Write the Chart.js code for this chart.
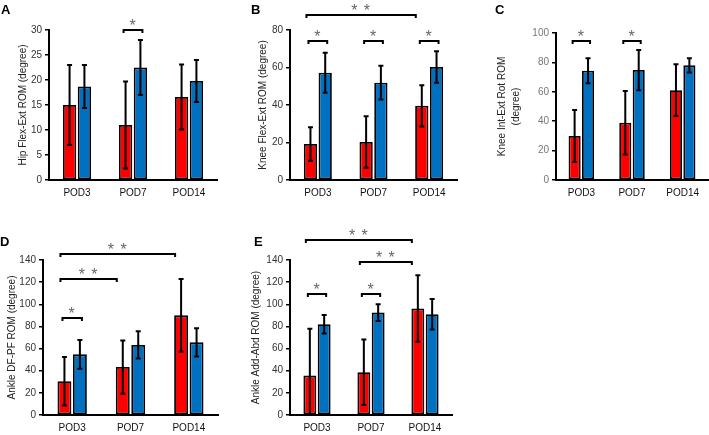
<!DOCTYPE html>
<html>
<head>
<meta charset="utf-8">
<script src="https://cdn.jsdelivr.net/npm/chart.js@4.4.1/dist/chart.umd.min.js"></script>
<style>
  body { margin: 0; background: #fff; width: 709px; height: 435px; position: relative; overflow: hidden;
         font-family: "Liberation Sans", Arial, sans-serif; }
  canvas { position: absolute; }
  .tag { position: absolute; font-weight: bold; font-size: 13px; color: #000; line-height: 13px; }
</style>
</head>
<body>
<canvas id="chartA" width="230" height="212" style="left:0;top:0"></canvas>
<canvas id="chartB" width="230" height="212" style="left:230px;top:0"></canvas>
<canvas id="chartC" width="249" height="212" style="left:460px;top:0"></canvas>
<canvas id="chartD" width="240" height="220" style="left:0;top:215px"></canvas>
<canvas id="chartE" width="215" height="220" style="left:245px;top:215px"></canvas>
<div class="tag" style="left:1px;top:3px">A</div>
<div class="tag" style="left:251px;top:3px">B</div>
<div class="tag" style="left:495px;top:3px">C</div>
<div class="tag" style="left:0;top:235px">D</div>
<div class="tag" style="left:254px;top:235px">E</div>
<script>
'use strict';
var categories = ['POD3', 'POD7', 'POD14'];

// A - hip flexion/extension
var hipRed = [15, 11, 16.6];
var hipRedSd = [8, 8.7, 6.5];
var hipBlue = [18.7, 22.5, 19.8];
var hipBlueSd = [4.3, 5.5, 4.2];
var hipTicks = [0, 5, 10, 15, 20, 25, 30];
var hipSig = [[1, 0, 1, 1, 30, '*']];

// B - knee flexion/extension
var kneeRed = [19.2, 20.3, 39.6];
var kneeRedSd = [8.9, 13.7, 11];
var kneeBlue = [57.2, 51.9, 60.3];
var kneeBlueSd = [10.7, 9, 8.4];
var kneeTicks = [0, 20, 40, 60, 80];
var kneeSig = [[0, 0, 0, 1, 74, '*'], [1, 0, 1, 1, 74, '*'], [2, 0, 2, 1, 74, '*'], [0, 0, 2, 0, 88, '* *']];

// C - knee internal/external rotation
var rotRed = [30, 39, 61.1];
var rotRedSd = [17.7, 21.6, 17.6];
var rotBlue = [74.3, 74.8, 78];
var rotBlueSd = [8.5, 13.7, 4.9];
var rotTicks = [0, 20, 40, 60, 80, 100];
var rotSig = [[0, 0, 0, 1, 94.5, '*'], [1, 0, 1, 1, 94.5, '*']];

// D - ankle DF/PF
var dfRed = [30.5, 43.3, 90];
var dfRedSd = [22, 24, 32.8];
var dfBlue = [54.8, 63.3, 65.6];
var dfBlueSd = [13, 12.3, 12.8];
var dfTicks = [0, 20, 40, 60, 80, 100, 120, 140];
var dfSig = [[0, 0, 0, 1, 88, '*'], [0, 0, 1, 0, 123, '* *'], [0, 0, 2, 0, 145.4, '* *']];

// E - ankle add/abd
var abdRed = [35.7, 38.7, 96.2];
var abdRedSd = [42.3, 29.6, 30];
var abdBlue = [82, 92.5, 91];
var abdBlueSd = [8.3, 7.5, 13.8];
var abdTicks = [0, 20, 40, 60, 80, 100, 120, 140];
var abdSig = [[0, 0, 0, 1, 109, '*'], [1, 0, 1, 1, 109, '*'], [1, 0, 2, 0, 138, '* *'], [0, 0, 2, 0, 158, '* *']];

Chart.defaults.font.family = '"Liberation Sans", Arial, sans-serif';

function buildPanel(canvasId, cfg) {
    // error bars + significance brackets, drawn through the chart's own scales
    var overlay = {
        id: 'overlay',
        afterDatasetsDraw: function (chart) {
            var ctx = chart.ctx;
            var y = chart.scales.y;
            ctx.save();
            ctx.strokeStyle = '#000';
            ctx.lineWidth = 2;
            chart.data.datasets.forEach(function (ds, i) {
                chart.getDatasetMeta(i).data.forEach(function (bar, j) {
                    var top = y.getPixelForValue(ds.data[j] + ds.sd[j]);
                    var bottom = y.getPixelForValue(Math.max(0, ds.data[j] - ds.sd[j]));
                    ctx.beginPath();
                    ctx.moveTo(bar.x, top); ctx.lineTo(bar.x, bottom);
                    ctx.moveTo(bar.x - 2.5, top); ctx.lineTo(bar.x + 2.5, top);
                    ctx.moveTo(bar.x - 2.5, bottom); ctx.lineTo(bar.x + 2.5, bottom);
                    ctx.stroke();
                });
            });
            cfg.sig.forEach(function (s) {
                var a = chart.getDatasetMeta(s[1]).data[s[0]];
                var b = chart.getDatasetMeta(s[3]).data[s[2]];
                var x1, x2;
                if (s[0] === s[2]) { x1 = a.x - 2; x2 = b.x + 2; }
                else { x1 = a.x - 4; x2 = b.x - 6; }
                var py = Math.round(y.getPixelForValue(s[4]));
                ctx.beginPath();
                ctx.moveTo(x1, py + 3); ctx.lineTo(x1, py); ctx.lineTo(x2, py); ctx.lineTo(x2, py + 3);
                ctx.stroke();
                ctx.fillStyle = '#666';
                ctx.font = '16px "Liberation Sans", Arial, sans-serif';
                ctx.letterSpacing = '1px';
                ctx.textAlign = 'center';
                ctx.textBaseline = 'alphabetic';
                ctx.fillText(s[5], (x1 + x2) / 2, py + 1);
            });
            ctx.restore();
        }
    };

    return new Chart(document.getElementById(canvasId), {
        type: 'bar',
        data: {
            labels: categories,
            datasets: [{
                data: cfg.red,
                sd: cfg.redSd,
                backgroundColor: '#FF0000',
                borderColor: '#000',
                borderWidth: 1.8,
                borderSkipped: false
            }, {
                data: cfg.blue,
                sd: cfg.blueSd,
                backgroundColor: '#0070C0',
                borderColor: '#000',
                borderWidth: 1.8,
                borderSkipped: false
            }]
        },
        options: {
            responsive: false,
            animation: false,
            layout: { padding: { top: cfg.padTop, right: cfg.padRight, left: 0, bottom: 0 } },
            datasets: { bar: { categoryPercentage: 0.53, barPercentage: 0.9 } },
            plugins: { legend: { display: false }, tooltip: { enabled: false } },
            scales: {
                x: {
                    grid: { display: false, drawTicks: false },
                    border: { color: '#000', width: 2 },
                    ticks: { color: '#111', font: { size: 10 }, padding: 7 },
                    afterFit: function (s) { s.height = cfg.xHeight; }
                },
                y: {
                    min: 0,
                    max: cfg.ticks[cfg.ticks.length - 1],
                    afterBuildTicks: function (s) {
                        s.ticks = cfg.ticks.map(function (v) { return { value: v }; });
                    },
                    grid: { drawOnChartArea: false, drawTicks: true, tickLength: 4, color: '#000', lineWidth: 1.5 },
                    border: { color: '#000', width: 2 },
                    ticks: { color: cfg.tickColor, font: { size: 10 }, padding: 3 },
                    title: {
                        display: true,
                        text: cfg.title,
                        color: '#222',
                        font: { size: 10, lineHeight: 1.4 },
                        padding: { top: cfg.titlePad, bottom: 0 }
                    },
                    afterFit: function (s) { s.width = cfg.yWidth; }
                }
            }
        },
        plugins: [overlay]
    });
}

buildPanel('chartA', {
    red: hipRed, redSd: hipRedSd, blue: hipBlue, blueSd: hipBlueSd, ticks: hipTicks, sig: hipSig,
    title: 'Hip Flex-Ext ROM (degree)', tickColor: '#333',
    yWidth: 49, padTop: 30, padRight: 13, xHeight: 32, titlePad: 16
});
buildPanel('chartB', {
    red: kneeRed, redSd: kneeRedSd, blue: kneeBlue, blueSd: kneeBlueSd, ticks: kneeTicks, sig: kneeSig,
    title: 'Knee Flex-Ext ROM (degree)', tickColor: '#333',
    yWidth: 60, padTop: 30, padRight: 3, xHeight: 32, titlePad: 26
});
buildPanel('chartC', {
    red: rotRed, redSd: rotRedSd, blue: rotBlue, blueSd: rotBlueSd, ticks: rotTicks, sig: rotSig,
    title: ['Knee Int-Ext Rot ROM', '(degree)'], tickColor: '#777',
    yWidth: 96, padTop: 33, padRight: 1, xHeight: 32, titlePad: 35
});
buildPanel('chartD', {
    red: dfRed, redSd: dfRedSd, blue: dfBlue, blueSd: dfBlueSd, ticks: dfTicks, sig: dfSig,
    title: 'Ankle DF-PF ROM (degree)', tickColor: '#333',
    yWidth: 43, padTop: 45, padRight: 22, xHeight: 20, titlePad: 5
});
buildPanel('chartE', {
    red: abdRed, redSd: abdRedSd, blue: abdBlue, blueSd: abdBlueSd, ticks: abdTicks, sig: abdSig,
    title: 'Ankle Add-Abd ROM (degree)', tickColor: '#333',
    yWidth: 45, padTop: 45, padRight: 8, xHeight: 20, titlePad: 4
});
</script>
</body>
</html>
